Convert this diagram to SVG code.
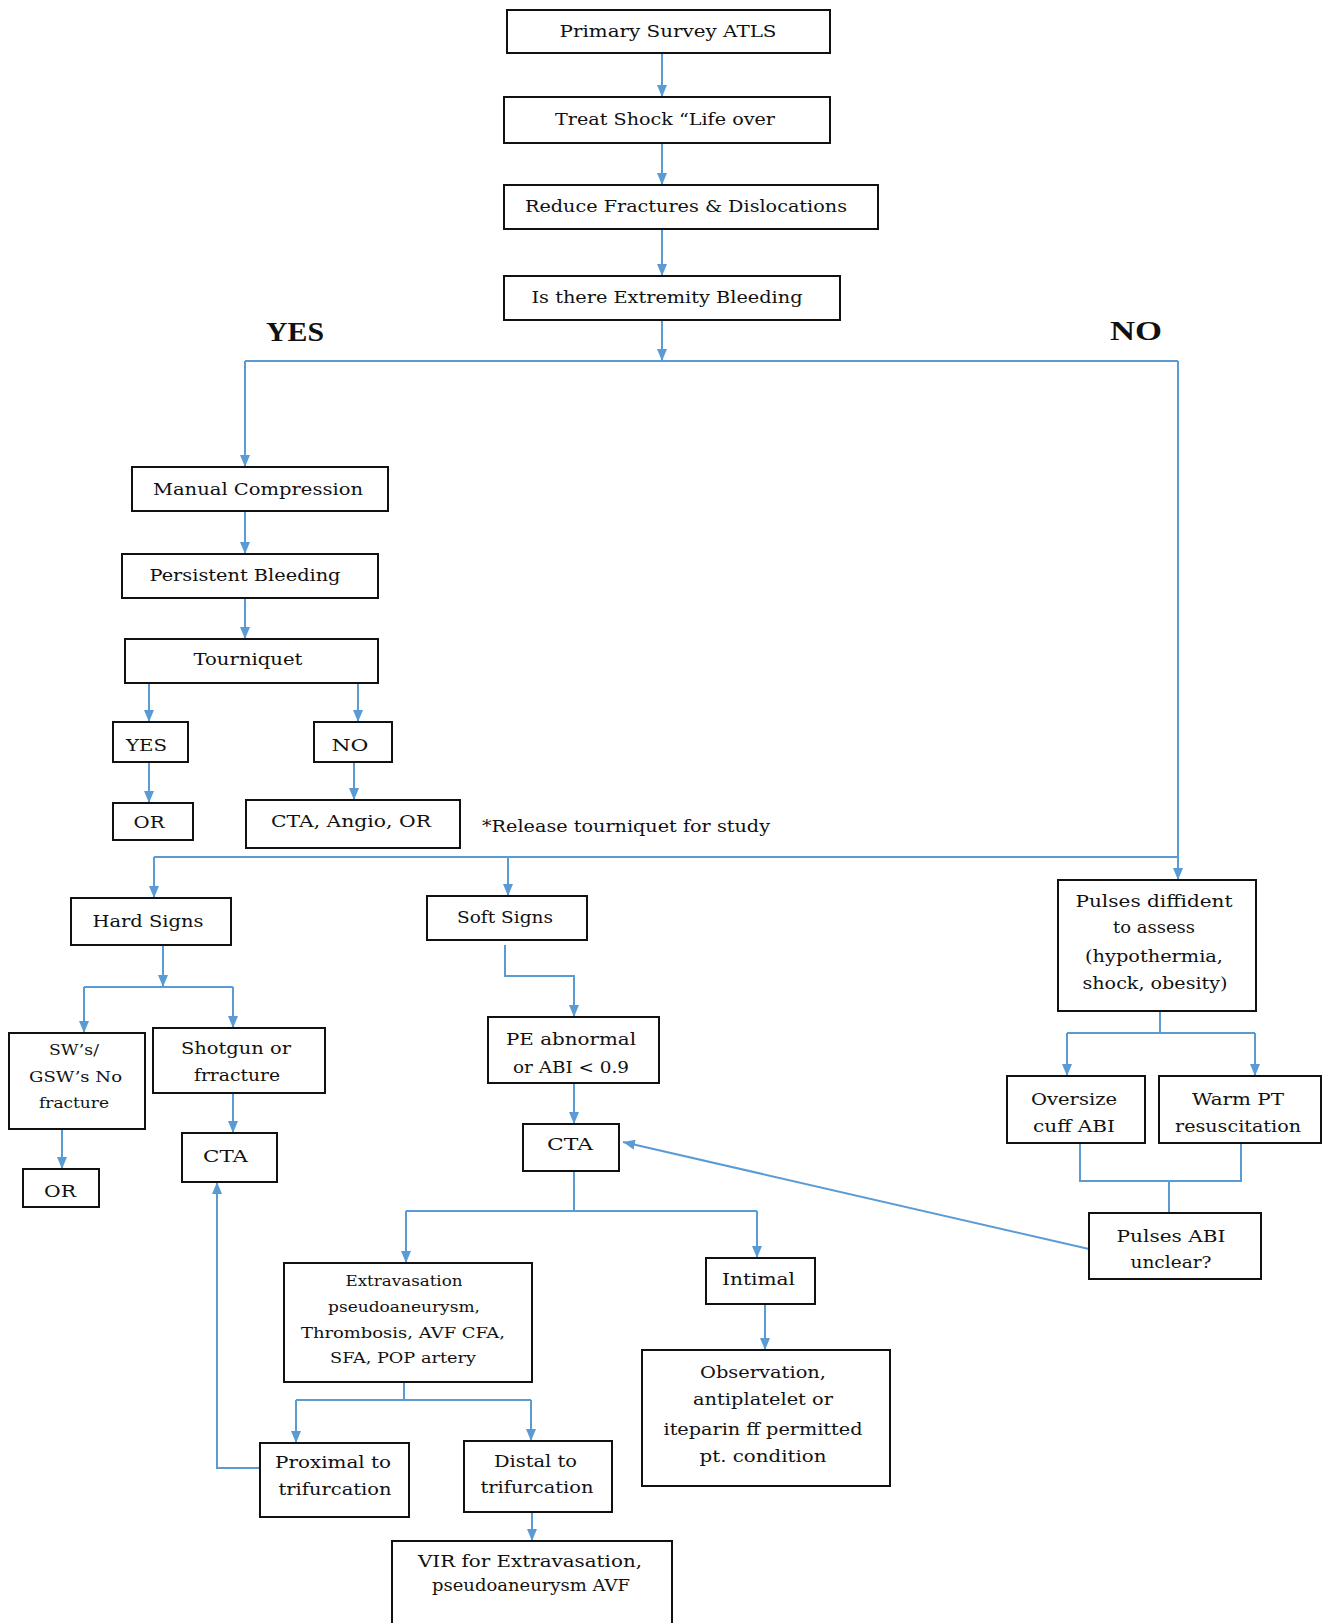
<svg xmlns="http://www.w3.org/2000/svg" width="1323" height="1623" viewBox="0 0 1323 1623">
<defs>
<style>
.box{fill:#fff;stroke:#111;stroke-width:2}
.t{font-family:"DejaVu Serif","Liberation Serif",serif;font-size:17px;fill:#111;text-anchor:middle}
.s{font-size:15px}
.big{font-family:"Liberation Serif",serif;font-size:28px;font-weight:bold;fill:#111;text-anchor:middle}
.c{fill:none;stroke:#5B9BD5;stroke-width:2}
.a{marker-end:url(#ah)}
</style>
<marker id="ah" markerUnits="userSpaceOnUse" markerWidth="12" markerHeight="12" viewBox="0 0 12 12" refX="12" refY="6" orient="auto">
<path d="M0,1 L12,6 L0,11 z" fill="#5B9BD5"/>
</marker>
</defs>
<rect width="1323" height="1623" fill="#fff"/>
<g id="connectors">
<path class="c a" d="M662,53 V97"/>
<path class="c a" d="M662,143 V185"/>
<path class="c a" d="M662,229 V276"/>
<path class="c a" d="M662,320 V361"/>
<path class="c" d="M245,361 H1178"/>
<path class="c a" d="M245,361 V467"/>
<path class="c a" d="M1178,361 V880"/>
<path class="c a" d="M245,511 V554"/>
<path class="c a" d="M245,598 V639"/>
<path class="c a" d="M149,683 V722"/>
<path class="c a" d="M358,683 V722"/>
<path class="c a" d="M149,762 V803"/>
<path class="c a" d="M354,762 V800"/>
<path class="c" d="M154,857 H1178"/>
<path class="c a" d="M154,857 V898"/>
<path class="c a" d="M508,857 V896"/>
<path class="c a" d="M163,945 V987"/>
<path class="c" d="M84,987 H233"/>
<path class="c a" d="M84,987 V1033"/>
<path class="c a" d="M233,987 V1028"/>
<path class="c a" d="M233,1093 V1133"/>
<path class="c a" d="M62,1129 V1169"/>
<path class="c a" d="M505,945 V976 H574 V1017"/>
<path class="c a" d="M574,1083 V1124"/>
<path class="c" d="M574,1171 V1211 M406,1211 H757"/>
<path class="c a" d="M406,1211 V1263"/>
<path class="c a" d="M757,1211 V1258"/>
<path class="c" d="M404,1382 V1400 M296,1400 H531"/>
<path class="c a" d="M296,1400 V1443"/>
<path class="c a" d="M531,1400 V1441"/>
<path class="c a" d="M532,1512 V1541"/>
<path class="c a" d="M765,1304 V1350"/>
<path class="c a" d="M259,1468 H217 V1182"/>
<path class="c" d="M1160,1011 V1033 M1067,1033 H1255"/>
<path class="c a" d="M1067,1033 V1076"/>
<path class="c a" d="M1255,1033 V1076"/>
<path class="c" d="M1080,1143 V1181 H1241 V1143 M1169,1181 V1213"/>
<path class="c a" d="M1089,1249 L623,1142"/>
</g>
<g id="primary"><rect class="box" x="507" y="10" width="323" height="43"/><text class="t" x="668" y="37" textLength="217" lengthAdjust="spacingAndGlyphs">Primary Survey ATLS</text></g>
<g id="treat"><rect class="box" x="504" y="97" width="326" height="46"/><text class="t" x="665" y="125" textLength="220" lengthAdjust="spacingAndGlyphs">Treat Shock “Life over</text></g>
<g id="reduce"><rect class="box" x="504" y="185" width="374" height="44"/><text class="t" x="686" y="212" textLength="322" lengthAdjust="spacingAndGlyphs">Reduce Fractures &amp; Dislocations</text></g>
<g id="bleeding"><rect class="box" x="504" y="276" width="336" height="44"/><text class="t" x="667" y="303" textLength="271" lengthAdjust="spacingAndGlyphs">Is there Extremity Bleeding</text></g>
<g id="yes-label"><text class="big" x="295" y="341" textLength="58" lengthAdjust="spacingAndGlyphs">YES</text></g>
<g id="no-label"><text class="big" x="1136" y="340" textLength="52" lengthAdjust="spacingAndGlyphs">NO</text></g>
<g id="manual"><rect class="box" x="132" y="467" width="256" height="44"/><text class="t" x="258" y="495" textLength="210" lengthAdjust="spacingAndGlyphs">Manual Compression</text></g>
<g id="persistent"><rect class="box" x="122" y="554" width="256" height="44"/><text class="t" x="245" y="581" textLength="191" lengthAdjust="spacingAndGlyphs">Persistent Bleeding</text></g>
<g id="tourniquet"><rect class="box" x="125" y="639" width="253" height="44"/><text class="t" x="248" y="665" textLength="109" lengthAdjust="spacingAndGlyphs">Tourniquet</text></g>
<g id="t-yes"><rect class="box" x="113" y="722" width="75" height="40"/><text class="t" x="146.5" y="751" textLength="41" lengthAdjust="spacingAndGlyphs">YES</text></g>
<g id="t-no"><rect class="box" x="314" y="722" width="78" height="40"/><text class="t" x="350" y="751" textLength="37" lengthAdjust="spacingAndGlyphs">NO</text></g>
<g id="or1"><rect class="box" x="113" y="803" width="80" height="37"/><text class="t" x="149" y="828" textLength="31" lengthAdjust="spacingAndGlyphs">OR</text></g>
<g id="cta-angio"><rect class="box" x="246" y="800" width="214" height="48"/><text class="t" x="351" y="827" textLength="160" lengthAdjust="spacingAndGlyphs">CTA, Angio, OR</text></g>
<g id="release-note"><text class="t" x="626" y="832" textLength="288" lengthAdjust="spacingAndGlyphs">*Release tourniquet for study</text></g>
<g id="hard"><rect class="box" x="71" y="898" width="160" height="47"/><text class="t" x="148" y="927" textLength="111" lengthAdjust="spacingAndGlyphs">Hard Signs</text></g>
<g id="soft"><rect class="box" x="427" y="896" width="160" height="44"/><text class="t" x="505" y="923" textLength="96" lengthAdjust="spacingAndGlyphs">Soft Signs</text></g>
<g id="pulses-diffident"><rect class="box" x="1058" y="880" width="198" height="131"/>
<text class="t" x="1154" y="907" textLength="157" lengthAdjust="spacingAndGlyphs">Pulses diffident</text>
<text class="t" x="1154" y="933" textLength="82" lengthAdjust="spacingAndGlyphs">to assess</text>
<text class="t" x="1154" y="962" textLength="138" lengthAdjust="spacingAndGlyphs">(hypothermia,</text>
<text class="t" x="1155" y="989" textLength="145" lengthAdjust="spacingAndGlyphs">shock, obesity)</text></g>
<g id="sws"><rect class="box" x="9" y="1033" width="136" height="96"/>
<text class="t s" x="74" y="1055" textLength="50" lengthAdjust="spacingAndGlyphs">SW’s/</text>
<text class="t s" x="75.5" y="1082" textLength="93" lengthAdjust="spacingAndGlyphs">GSW’s No</text>
<text class="t s" x="74" y="1108" textLength="70" lengthAdjust="spacingAndGlyphs">fracture</text></g>
<g id="shotgun"><rect class="box" x="153" y="1028" width="172" height="65"/>
<text class="t" x="236" y="1054" textLength="110" lengthAdjust="spacingAndGlyphs">Shotgun or</text>
<text class="t" x="237" y="1081" textLength="86" lengthAdjust="spacingAndGlyphs">frracture</text></g>
<g id="cta-left"><rect class="box" x="182" y="1133" width="95" height="49"/><text class="t" x="225.5" y="1162" textLength="45" lengthAdjust="spacingAndGlyphs">CTA</text></g>
<g id="or2"><rect class="box" x="23" y="1169" width="76" height="38"/><text class="t" x="60" y="1197" textLength="32" lengthAdjust="spacingAndGlyphs">OR</text></g>
<g id="pe"><rect class="box" x="488" y="1017" width="171" height="66"/>
<text class="t" x="571" y="1045" textLength="130" lengthAdjust="spacingAndGlyphs">PE abnormal</text>
<text class="t" x="571" y="1073" textLength="116" lengthAdjust="spacingAndGlyphs">or ABI &lt; 0.9</text></g>
<g id="cta-mid"><rect class="box" x="523" y="1124" width="96" height="47"/><text class="t" x="570" y="1150" textLength="46" lengthAdjust="spacingAndGlyphs">CTA</text></g>
<g id="oversize"><rect class="box" x="1007" y="1076" width="138" height="67"/>
<text class="t" x="1074" y="1105" textLength="86" lengthAdjust="spacingAndGlyphs">Oversize</text>
<text class="t" x="1074" y="1132" textLength="82" lengthAdjust="spacingAndGlyphs">cuff ABI</text></g>
<g id="warm"><rect class="box" x="1159" y="1076" width="162" height="67"/>
<text class="t" x="1238" y="1105" textLength="92" lengthAdjust="spacingAndGlyphs">Warm PT</text>
<text class="t" x="1238" y="1132" textLength="126" lengthAdjust="spacingAndGlyphs">resuscitation</text></g>
<g id="pulses-abi"><rect class="box" x="1089" y="1213" width="172" height="66"/>
<text class="t" x="1171" y="1242" textLength="109" lengthAdjust="spacingAndGlyphs">Pulses ABI</text>
<text class="t" x="1171" y="1268" textLength="81" lengthAdjust="spacingAndGlyphs">unclear?</text></g>
<g id="extravasation"><rect class="box" x="284" y="1263" width="248" height="119"/>
<text class="t s" x="404" y="1286" textLength="117" lengthAdjust="spacingAndGlyphs">Extravasation</text>
<text class="t s" x="404" y="1312" textLength="152" lengthAdjust="spacingAndGlyphs">pseudoaneurysm,</text>
<text class="t s" x="403" y="1338" textLength="204" lengthAdjust="spacingAndGlyphs">Thrombosis, AVF CFA,</text>
<text class="t s" x="403" y="1363" textLength="146" lengthAdjust="spacingAndGlyphs">SFA, POP artery</text></g>
<g id="intimal"><rect class="box" x="706" y="1258" width="109" height="46"/><text class="t" x="758.5" y="1285" textLength="73" lengthAdjust="spacingAndGlyphs">Intimal</text></g>
<g id="observation"><rect class="box" x="642" y="1350" width="248" height="136"/>
<text class="t" x="763" y="1378" textLength="126" lengthAdjust="spacingAndGlyphs">Observation,</text>
<text class="t" x="763" y="1405" textLength="140" lengthAdjust="spacingAndGlyphs">antiplatelet or</text>
<text class="t" x="763" y="1435" textLength="199" lengthAdjust="spacingAndGlyphs">iteparin ff permitted</text>
<text class="t" x="763" y="1462" textLength="127" lengthAdjust="spacingAndGlyphs">pt. condition</text></g>
<g id="proximal"><rect class="box" x="260" y="1443" width="149" height="74"/>
<text class="t" x="333" y="1468" textLength="116" lengthAdjust="spacingAndGlyphs">Proximal to</text>
<text class="t" x="335" y="1495" textLength="113" lengthAdjust="spacingAndGlyphs">trifurcation</text></g>
<g id="distal"><rect class="box" x="464" y="1441" width="148" height="71"/>
<text class="t" x="535.5" y="1467" textLength="83" lengthAdjust="spacingAndGlyphs">Distal to</text>
<text class="t" x="537" y="1493" textLength="113" lengthAdjust="spacingAndGlyphs">trifurcation</text></g>
<g id="vir"><rect class="box" x="392" y="1541" width="280" height="100"/>
<text class="t" x="530" y="1567" textLength="224" lengthAdjust="spacingAndGlyphs">VIR for Extravasation,</text>
<text class="t" x="531" y="1591" textLength="198" lengthAdjust="spacingAndGlyphs">pseudoaneurysm AVF</text></g>
</svg>
